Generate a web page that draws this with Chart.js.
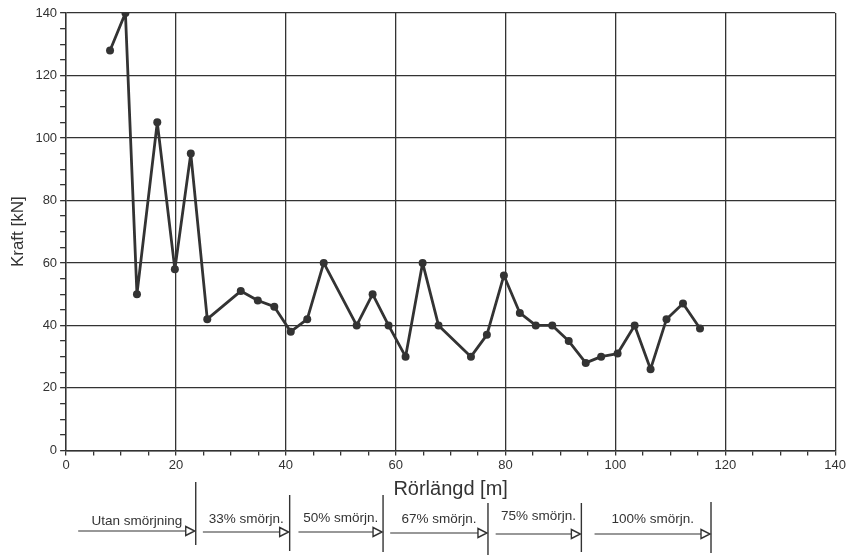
<!DOCTYPE html>
<html>
<head>
<meta charset="utf-8">
<script src="https://cdn.jsdelivr.net/npm/chart.js@4/dist/chart.umd.min.js"></script>
<style>
  html, body { margin: 0; padding: 0; background: #fff; }
  #wrap { width: 848px; height: 556px; }
</style>
</head>
<body>
<div id="wrap"><canvas id="chart" width="848" height="556"></canvas></div>
<script>
// Rörlängd [m] och uppmätt kraft [kN]
const langd = [8, 10.8, 12.9, 16.6, 19.8, 22.7, 25.7, 31.8, 34.9, 37.9, 40.9, 43.9, 46.9, 52.9, 55.8, 58.7,
    61.8, 64.9, 67.8, 73.7, 76.6, 79.7, 82.6, 85.5, 88.5, 91.5, 94.6, 97.4, 100.4, 103.5, 106.4, 109.3, 112.3, 115.4];
const kraft = [128, 140, 50, 105, 58, 95, 42, 51, 48, 46, 38, 42, 60, 40, 50, 40,
    30, 60, 40, 30, 37, 56, 44, 40, 40, 35, 28, 30, 31, 40, 26, 42, 47, 39];

// smörjningsavsnitt under x-axeln
const avsnittNamn = ['Utan smörjning', '33% smörjn.', '50% smörjn.', '67% smörjn.', '75% smörjn.', '100% smörjn.'];
const avsnittStart = [2.2, 24.9, 42.3, 59, 78.2, 96.2];
const avsnittSlut = [23.6, 40.7, 57.7, 76.8, 93.8, 117.4];

const xTicks = [0, 20, 40, 60, 80, 100, 120, 140];
const yTicks = [0, 20, 40, 60, 80, 100, 120, 140];

const FONT = '"Liberation Sans", Arial, Helvetica, sans-serif';
const INK = '#333';

// pixelpositioner för markeringslinjerna (layout, inte data)
const strekTopp = [482, 495, 495, 503, 503, 502];
const strekBotten = [545, 551, 552, 555, 552, 553];
const pilY = [531, 532, 532, 533, 534, 534];
const textY = [521, 519, 518, 519, 516, 519];

const avsnittPlugin = {
    id: 'avsnitt',
    afterDraw(chart) {
        const c = chart.ctx;
        const xs = chart.scales.x;
        c.save();
        c.strokeStyle = INK;
        c.fillStyle = INK;
        c.font = '13.5px ' + FONT;
        c.textAlign = 'center';
        c.textBaseline = 'middle';
        avsnittNamn.forEach((namn, i) => {
            const x0 = xs.getPixelForValue(avsnittStart[i]);
            const x1 = xs.getPixelForValue(avsnittSlut[i]);
            const y = pilY[i];
            // pil
            c.lineWidth = 1.2;
            c.beginPath();
            c.moveTo(x0, y);
            c.lineTo(x1 - 9, y);
            c.stroke();
            c.beginPath();
            c.moveTo(x1 - 10, y - 4.5);
            c.lineTo(x1 - 1, y);
            c.lineTo(x1 - 10, y + 4.5);
            c.closePath();
            c.fillStyle = '#fff';
            c.fill();
            c.lineWidth = 1.4;
            c.stroke();
            // lodrät streck
            c.lineWidth = 1.4;
            c.beginPath();
            c.moveTo(x1, strekTopp[i]);
            c.lineTo(x1, strekBotten[i]);
            c.stroke();
            // text
            c.fillStyle = INK;
            c.fillText(namn, (x0 + x1) / 2, textY[i]);
        });
        c.restore();
    }
};

const ctx = document.getElementById('chart').getContext('2d');
new Chart(ctx, {
    type: 'line',
    data: {
        datasets: [{
            data: langd.map((x, i) => ({ x: x, y: kraft[i] })),
            borderColor: INK,
            backgroundColor: INK,
            borderWidth: 2.8,
            borderJoinStyle: 'round',
            borderCapStyle: 'round',
            pointRadius: 4,
            pointBackgroundColor: INK,
            pointBorderWidth: 0,
            tension: 0
        }]
    },
    options: {
        responsive: false,
        animation: false,
        layout: { padding: { left: 8, right: 0, top: 13, bottom: 55 } },
        plugins: {
            legend: { display: false },
            tooltip: { enabled: false }
        },
        scales: {
            x: {
                type: 'linear',
                min: 0,
                max: 140,
                border: { color: INK, width: 1.4 },
                grid: {
                    color: (c) => xTicks.includes(c.tick.value) ? INK : 'transparent',
                    tickColor: INK,
                    lineWidth: 1.3,
                    tickLength: 5
                },
                ticks: {
                    stepSize: 5,
                    autoSkip: false,
                    maxRotation: 0,
                    color: INK,
                    font: { family: FONT, size: 13 },
                    padding: 2,
                    callback: (v) => xTicks.includes(v) ? v : ''
                },
                title: {
                    display: true,
                    text: 'Rörlängd [m]',
                    color: INK,
                    font: { family: FONT, size: 20 },
                    padding: { top: 2, bottom: 0 }
                }
            },
            y: {
                min: 0,
                max: 140,
                border: { color: INK, width: 1.4 },
                grid: {
                    color: (c) => yTicks.includes(c.tick.value) ? INK : 'transparent',
                    tickColor: INK,
                    lineWidth: 1.3,
                    tickLength: 6
                },
                ticks: {
                    stepSize: 5,
                    autoSkip: false,
                    color: INK,
                    font: { family: FONT, size: 13 },
                    padding: 3,
                    callback: (v) => yTicks.includes(v) ? v : ''
                },
                title: {
                    display: true,
                    text: 'Kraft [kN]',
                    color: INK,
                    font: { family: FONT, size: 17 },
                    padding: { top: 0, bottom: 4 }
                }
            }
        }
    },
    plugins: [avsnittPlugin]
});
</script>
</body>
</html>
